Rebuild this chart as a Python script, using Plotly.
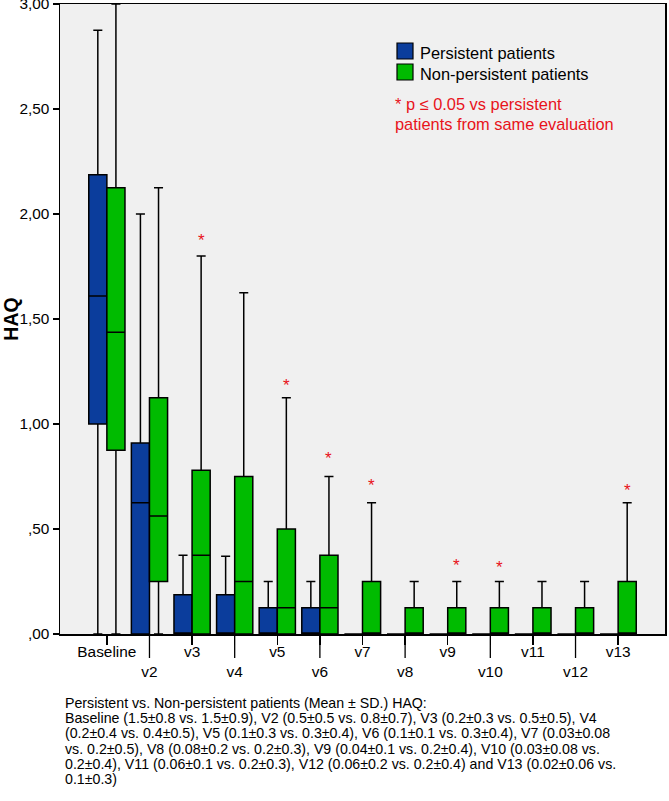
import plotly.graph_objects as go

# ---------------- data ----------------
categories = ["Baseline", "v2", "v3", "v4", "v5", "v6", "v7", "v8", "v9", "v10", "v11", "v12", "v13"]
# lower row of staggered x labels
lower_row = ["v2", "v4", "v6", "v8", "v10", "v12"]

pers_lower = [0, 0, 0, 0, 0, 0, 0, 0, 0, 0, 0, 0, 0]
pers_q1 = [1.0, 0, 0, 0, 0, 0, 0, 0, 0, 0, 0, 0, 0]
pers_median = [1.61, 0.625, 0, 0, 0, 0, 0, 0, 0, 0, 0, 0, 0]
pers_q3 = [2.1875, 0.91, 0.1875, 0.1875, 0.125, 0.125, 0, 0, 0, 0, 0, 0, 0]
pers_upper = [2.875, 2.0, 0.375, 0.37, 0.25, 0.25, 0, 0, 0, 0, 0, 0, 0]

nonp_lower = [0, 0, 0, 0, 0, 0, 0, 0, 0, 0, 0, 0, 0]
nonp_q1 = [0.875, 0.25, 0, 0, 0, 0, 0, 0, 0, 0, 0, 0, 0]
nonp_median = [1.4375, 0.5625, 0.375, 0.25, 0.125, 0.125, 0, 0, 0, 0, 0, 0, 0]
nonp_q3 = [2.125, 1.125, 0.78, 0.75, 0.5, 0.375, 0.25, 0.125, 0.125, 0.125, 0.125, 0.125, 0.25]
nonp_upper = [3.0, 2.125, 1.8, 1.625, 1.125, 0.75, 0.625, 0.25, 0.25, 0.25, 0.25, 0.25, 0.625]

# significance markers (category, y position of the asterisk)
star_cats = ["v3", "v5", "v6", "v7", "v9", "v10", "v13"]
star_y = [1.89, 1.20, 0.85, 0.72, 0.34, 0.33, 0.70]

y_tickvals = [0, 0.5, 1.0, 1.5, 2.0, 2.5, 3.0]
y_ticktext = [",00", ",50", "1,00", "1,50", "2,00", "2,50", "3,00"]

series_names = ["Persistent patients", "Non-persistent patients"]
note_text = "* p ≤ 0.05 vs persistent<br>patients from same evaluation"
caption_lines = [
    "Persistent vs. Non-persistent patients (Mean ± SD.) HAQ:",
    "Baseline (1.5±0.8 vs. 1.5±0.9), V2 (0.5±0.5 vs. 0.8±0.7), V3 (0.2±0.3 vs. 0.5±0.5), V4",
    "(0.2±0.4 vs. 0.4±0.5), V5 (0.1±0.3 vs. 0.3±0.4), V6 (0.1±0.1 vs. 0.3±0.4), V7 (0.03±0.08",
    "vs. 0.2±0.5), V8 (0.08±0.2 vs. 0.2±0.3), V9 (0.04±0.1 vs. 0.2±0.4), V10 (0.03±0.08 vs.",
    "0.2±0.4), V11 (0.06±0.1 vs. 0.2±0.3), V12 (0.06±0.2 vs. 0.2±0.4) and V13 (0.02±0.06 vs.",
    "0.1±0.3)",
]

# ---------------- style ----------------
BLUE = "#0b3d9c"
GREEN = "#00bb00"
RED = "#e8131b"
FONT = "Liberation Sans, Arial, sans-serif"
W, H = 669, 801
ML, MR, MT, MB = 60, 4, 4, 167
BOXGAP = 0.15

fig = go.Figure()
fig.add_trace(go.Box(
    name=series_names[0], x=categories, q1=pers_q1, median=pers_median, q3=pers_q3,
    lowerfence=pers_lower, upperfence=pers_upper, boxpoints=False,
    fillcolor=BLUE, line=dict(color="black", width=1.5), whiskerwidth=0.5,
    showlegend=False, hoverinfo="skip"))
fig.add_trace(go.Box(
    name=series_names[1], x=categories, q1=nonp_q1, median=nonp_median, q3=nonp_q3,
    lowerfence=nonp_lower, upperfence=nonp_upper, boxpoints=False,
    fillcolor=GREEN, line=dict(color="black", width=1.5), whiskerwidth=0.5,
    showlegend=False, hoverinfo="skip"))

# asterisks above the non-persistent boxes (offset of the 2nd box in a group)
green_off = (1 - BOXGAP) / 4
annotations = []
for c, yv in zip(star_cats, star_y):
    annotations.append(dict(x=categories.index(c) + green_off, y=yv, xref="x", yref="y",
                            text="*", showarrow=False, yanchor="middle", yshift=-3,
                            font=dict(family=FONT, size=17, color=RED)))

ticktext = [("<br>" + c) if c in lower_row else c for c in categories]

# legend (drawn manually to match square swatches)
pw = W - ML - MR
ph = H - MT - MB
def px_x(px):
    return (px - ML) / pw
def px_y(py):
    return (H - MB - py) / ph

shapes = []
for i, col in enumerate([BLUE, GREEN]):
    top = 43 + 21 * i
    shapes.append(dict(type="rect", xref="paper", yref="paper",
                       x0=px_x(397), x1=px_x(413), y0=px_y(top + 16), y1=px_y(top),
                       fillcolor=col, line=dict(color="black", width=1.2)))
    annotations.append(dict(xref="paper", yref="paper", x=px_x(418), y=px_y(top + 10),
                            xanchor="left", yanchor="middle", showarrow=False,
                            text=series_names[i], font=dict(family=FONT, size=16.4, color="black")))

for i, line in enumerate(note_text.split("<br>")):
    annotations.append(dict(xref="paper", yref="paper", x=px_x(393), y=px_y(104 + 20 * i),
                            xanchor="left", yanchor="middle", showarrow=False,
                            text=line, font=dict(family=FONT, size=16.4, color=RED)))

# extended ticks for the lower row of x labels
for c in lower_row:
    shapes.append(dict(type="line", xref="x", yref="paper", x0=categories.index(c),
                       x1=categories.index(c), y0=0, y1=-24 / ph,
                       line=dict(color="black", width=1.3)))

# caption below the chart
for i, line in enumerate(caption_lines):
    annotations.append(dict(xref="paper", yref="paper", x=px_x(63), y=px_y(703 + 15.2 * i),
                            xanchor="left", yanchor="middle", showarrow=False,
                            text=line, font=dict(family=FONT, size=14.2, color="black")))

fig.update_layout(
    width=W, height=H,
    margin=dict(l=ML, r=MR, t=MT, b=MB, autoexpand=False),
    paper_bgcolor="white", plot_bgcolor="#f0f0f0",
    boxmode="group", boxgap=BOXGAP, boxgroupgap=0,
    font=dict(family=FONT, size=15, color="black"),
    shapes=shapes, annotations=annotations,
    xaxis=dict(type="category", range=[-1.1, len(categories) - 1 + 1.1],
               tickvals=categories, ticktext=ticktext, automargin=False,
               ticks="outside", ticklen=9, tickwidth=1.3, tickcolor="black",
               showline=True, linecolor="black", linewidth=1.5, mirror=True,
               showgrid=False, zeroline=False, tickfont=dict(size=15.4),
               ticklabelstandoff=-6, ticklabeloverflow="allow"),
    yaxis=dict(range=[0, 3], tickvals=y_tickvals, ticktext=y_ticktext, automargin=False,
               ticks="outside", ticklen=6, tickwidth=1.3, tickcolor="black",
               showline=True, linecolor="black", linewidth=1.5, mirror=True,
               showgrid=False, zeroline=False, tickfont=dict(size=15.4),
               ticklabeloverflow="allow",
               title=dict(text="<b>HAQ</b>", font=dict(size=19.5), standoff=4)),
)

fig.write_html("out.html", config={"displayModeBar": False, "staticPlot": True},
               post_script="document.body.style.margin='0';document.body.style.overflow='hidden';")
